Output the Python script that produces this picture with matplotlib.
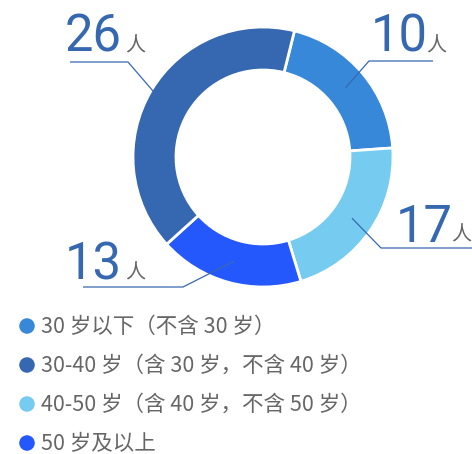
import numpy as np
import matplotlib
matplotlib.use("Agg")
import matplotlib.pyplot as plt

plt.rcParams['font.family'] = ['Noto Sans CJK SC', 'DejaVu Sans']

# Data
groups = ["30 岁以下（不含 30 岁）", "30-40 岁（含 30 岁，不含 40 岁）",
          "40-50 岁（含 40 岁，不含 50 岁）", "50 岁及以上"]
counts = [10, 26, 17, 13]
# ring order clockwise from the top (as drawn)
ring_order = [0, 2, 3, 1]
# share of the ring each slice takes (%)
ring_share = [20.0, 21.4, 18.0, 40.6]
colors = ["#3888da", "#3668b2", "#76cbf0", "#2457fc"]

W, H = 472, 454
fig = plt.figure(figsize=(W / 100, H / 100), dpi=100)
ax = fig.add_axes([0, 0, 1, 1])


def Y(y):
    # pixel row -> data y
    return H - y


cx, cy, R, ring_w = 263, 157, 130, 43
wedges, _ = ax.pie(ring_share, colors=[colors[i] for i in ring_order],
                   startangle=76, counterclock=False, radius=R,
                   center=(cx, Y(cy)),
                   wedgeprops=dict(width=ring_w, edgecolor="white", linewidth=2))
ax.set_xlim(0, W)
ax.set_ylim(0, H)
ax.set_aspect("equal")
ax.axis("off")

# label layout per ring slice: anchor radius, elbow, line end, number pos, 人 pos
layout = [
    dict(r=108, elbow=(369, 61), end=433, num=(371, 52), unit=(426, 51)),
    dict(r=108, elbow=(381, 248), end=472, num=(396, 242), unit=(451, 240)),
    dict(r=108, elbow=(183, 287), end=83, num=(65, 279), unit=(125, 278)),
    dict(r=128, elbow=(128, 62), end=70, num=(65, 52), unit=(125, 51)),
]
line_c = "#3668b2"
for w, idx, lay in zip(wedges, ring_order, layout):
    mid = np.deg2rad((w.theta1 + w.theta2) / 2)
    ax_x = cx + lay["r"] * np.cos(mid)
    ax_y = Y(cy) + lay["r"] * np.sin(mid)
    ex, ey = lay["elbow"]
    ax.plot([ax_x, ex, lay["end"]], [ax_y, Y(ey), Y(ey)],
            color=line_c, lw=0.9, solid_capstyle="butt")
    ax.text(lay["num"][0], Y(lay["num"][1]), str(counts[idx]),
            family="Roboto", fontweight="normal",
            fontsize=36.5, color=line_c, ha="left", va="baseline")
    ax.text(lay["unit"][0], Y(lay["unit"][1]), "人",
            fontsize=14.5, color="#666666", ha="left", va="baseline")

# legend
leg_circle_y = [326, 365, 404, 443]
leg_base_y = [333, 372, 411, 450]
for i, g in enumerate(groups):
    ax.scatter([27], [Y(leg_circle_y[i])], s=125, color=colors[i],
               edgecolors="none", zorder=3)
    ax.text(41, Y(leg_base_y[i]), g, fontsize=15.5, color="#666666",
            ha="left", va="baseline")

fig.savefig("out.png", dpi=100)
